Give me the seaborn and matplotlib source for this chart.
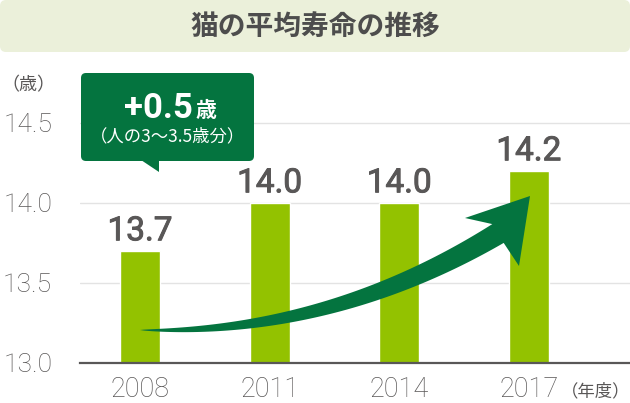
import numpy as np
import pandas as pd
import matplotlib
matplotlib.use('Agg')
import matplotlib.pyplot as plt
import matplotlib.patheffects as pe
import seaborn as sns
from matplotlib.patches import FancyBboxPatch, Polygon
from matplotlib.transforms import Affine2D

# データ
years = ['2008', '2011', '2014', '2017']
lifespan = [13.7, 14.0, 14.0, 14.2]
yticks = [13.0, 13.5, 14.0, 14.5]
title = '猫の平均寿命の推移'
callout_main = '+0.5'
callout_unit = '歳'
callout_sub = '（人の3〜3.5歳分）'

BAR = '#93c200'
DARK_GREEN = '#04743f'
TEXT = '#595757'

sns.set_theme(style='white')
plt.rcParams['font.family'] = ['Roboto', 'Noto Sans CJK JP', 'DejaVu Sans']

W, H = 630, 403
fig = plt.figure(figsize=(6.3, 4.03), dpi=100)
fig.patch.set_facecolor('white')
# pixel coordinates (origin top-left)
pix = Affine2D().scale(1 / W, -1 / H).translate(0, 1) + fig.transFigure

ax = fig.add_axes([80 / W, (H - 362.7) / H, 550 / W, 288 / H])
df = pd.DataFrame({'year': years, 'life': lifespan})
sns.barplot(data=df, x='year', y='life', color=BAR, saturation=1,
            width=0.31, ax=ax, zorder=2)

ax.set_ylim(13.0, 14.8)
ax.set_xlim(-0.463, 3.78)
ax.set_yticks(yticks)
ax.set_yticklabels([f'{v:.1f}' for v in yticks])
ax.yaxis.grid(True, color='#e3e3e3', lw=1)
ax.set_axisbelow(True)
for s in ['left', 'top', 'right']:
    ax.spines[s].set_visible(False)
ax.spines['bottom'].set_color(TEXT)
ax.spines['bottom'].set_linewidth(1.6)
ax.spines['bottom'].set_zorder(3)
ax.set_xlabel('')
ax.set_ylabel('')
ax.tick_params(axis='y', length=0, pad=20, labelsize=19, labelcolor=TEXT)
ax.tick_params(axis='x', length=0, pad=9.5, labelsize=19.5, labelcolor=TEXT)
for lbl in ax.get_yticklabels() + ax.get_xticklabels():
    lbl.set_fontweight('light')

for i, v in enumerate(lifespan):
    ax.text(i, v + 0.065, f'{v:.1f}', ha='center', va='baseline',
            fontsize=24, fontweight='normal', color=TEXT,
            path_effects=[pe.withStroke(linewidth=0.7, foreground=TEXT)])

# タイトル帯
fig.add_artist(FancyBboxPatch((0, 0), W, 52, boxstyle='round,pad=0,rounding_size=6',
                              transform=pix, facecolor='#ebf0da', edgecolor='none'))
fig.text(315, 27, title, transform=pix, ha='center', va='center',
         fontsize=20, fontweight='bold', color='#4d4d4d',
         family=['Noto Sans CJK JP', 'DejaVu Sans'])

fig.text(28, 85, '（歳）', transform=pix, ha='center', va='center',
         fontsize=13, color=TEXT, family=['Noto Sans CJK JP', 'DejaVu Sans'])
fig.text(630, 391, '（年度）', transform=pix, ha='right', va='center',
         fontsize=12.5, color=TEXT, family=['Noto Sans CJK JP', 'DejaVu Sans'])

# 吹き出し
fig.add_artist(FancyBboxPatch((81, 73), 173, 88, boxstyle='round,pad=0,rounding_size=5',
                              transform=pix, facecolor=DARK_GREEN, edgecolor='none'))
fig.add_artist(Polygon([(141, 160), (159, 172), (159, 160)], closed=True,
                       transform=pix, facecolor=DARK_GREEN, edgecolor='none'))
fig.text(193, 118, callout_main, transform=pix, ha='right', va='baseline',
         fontsize=25, fontweight='bold', color='white', family='Roboto')
fig.text(195, 117, callout_unit, transform=pix, ha='left', va='baseline',
         fontsize=15, fontweight='bold', color='white',
         family=['Noto Sans CJK JP', 'DejaVu Sans'])
fig.text(167.5, 136, callout_sub, transform=pix, ha='center', va='center',
         fontsize=12.5, color='white', family=['Noto Sans CJK JP', 'DejaVu Sans'])

# 上昇矢印
p0, p1, p2 = np.array([140, 330.]), np.array([330, 335.]), np.array([498, 233.5])
t = np.linspace(0, 1, 100)[:, None]
curve = (1 - t) ** 2 * p0 + 2 * t * (1 - t) * p1 + t ** 2 * p2
deriv = 2 * (1 - t) * (p1 - p0) + 2 * t * (p2 - p1)
normal = np.column_stack([-deriv[:, 1], deriv[:, 0]])
normal /= np.linalg.norm(normal, axis=1, keepdims=True)
w = 22 * t ** 0.7
upper = curve - normal * w / 2
lower = curve + normal * w / 2
head = np.array([(465, 218), (530, 196), (519, 266)])
pts = np.vstack([upper, head, lower[::-1]])
fig.add_artist(Polygon(pts, closed=True, transform=pix,
                       facecolor=DARK_GREEN, edgecolor='none', zorder=3))

fig.savefig('out.png', dpi=100, facecolor='white')
